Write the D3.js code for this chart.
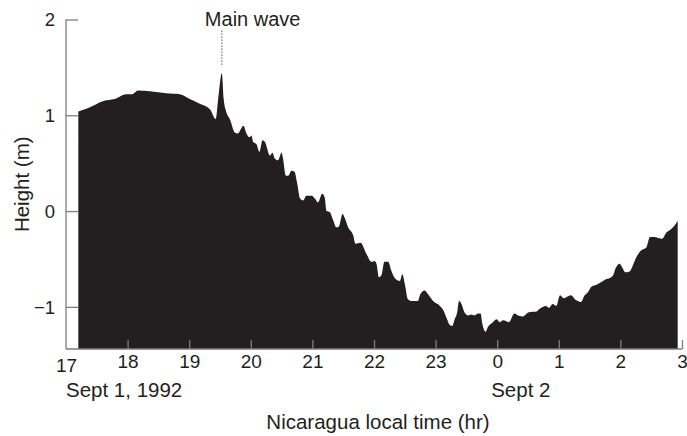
<!DOCTYPE html>
<html>
<head>
<meta charset="utf-8">
<script src="https://cdn.jsdelivr.net/npm/d3@7"></script>
<style>
  body { margin: 0; background: #fff; }
  svg { display: block; font-family: "Liberation Sans", Arial, sans-serif; }
</style>
</head>
<body>
<div id="chart"></div>
<script>
// tide gauge record, hours after midnight Sept 1 (24 = 0h Sept 2)
var hours = [17.20, 17.34, 17.61, 17.79, 17.98, 18.07, 18.17, 18.36, 18.63, 18.85,
  19.01, 19.17, 19.34, 19.43, 19.47, 19.53, 19.56, 19.60, 19.66, 19.74,
  19.79, 19.88, 19.93, 19.98, 20.01, 20.04, 20.09, 20.14, 20.19, 20.23,
  20.31, 20.35, 20.39, 20.44, 20.50, 20.52, 20.57, 20.61, 20.66, 20.71,
  20.75, 20.80, 20.85, 20.90, 20.99, 21.04, 21.09, 21.16, 21.20, 21.23,
  21.28, 21.34, 21.39, 21.43, 21.49, 21.53, 21.58, 21.66, 21.70, 21.78,
  21.88, 21.96, 22.01, 22.04, 22.08, 22.12, 22.17, 22.23, 22.28, 22.35,
  22.42, 22.46, 22.50, 22.55, 22.62, 22.71, 22.75, 22.82, 22.89, 22.96,
  23.07, 23.13, 23.18, 23.23, 23.27, 23.31, 23.35, 23.38, 23.42, 23.47,
  23.53, 23.58, 23.63, 23.69, 23.73, 23.76, 23.81, 23.85, 23.93, 23.99,
  24.04, 24.10, 24.19, 24.28, 24.34, 24.42, 24.50, 24.57, 24.63, 24.69,
  24.79, 24.84, 24.90, 24.96, 25.02, 25.08, 25.15, 25.20, 25.26, 25.31,
  25.36, 25.42, 25.47, 25.53, 25.61, 25.69, 25.77, 25.85, 25.89, 25.92,
  25.99, 26.03, 26.08, 26.15, 26.20, 26.26, 26.34, 26.42, 26.48, 26.55,
  26.61, 26.68, 26.74, 26.82, 26.88, 26.93];
var heights = [1.04, 1.07, 1.15, 1.17, 1.22, 1.22, 1.26, 1.25, 1.23, 1.22,
  1.17, 1.12, 1.06, 0.96, 1.17, 1.44, 1.17, 1.04, 0.96, 0.82,
  0.81, 0.89, 0.81, 0.77, 0.79, 0.72, 0.70, 0.62, 0.74, 0.72,
  0.58, 0.61, 0.55, 0.53, 0.61, 0.56, 0.37, 0.37, 0.42, 0.41,
  0.30, 0.13, 0.11, 0.16, 0.16, 0.13, 0.09, 0.18, 0.14, 0.00,
  -0.01, -0.10, -0.17, -0.16, -0.03, -0.08, -0.17, -0.25, -0.34, -0.33,
  -0.45, -0.53, -0.52, -0.55, -0.69, -0.67, -0.53, -0.53, -0.62, -0.71,
  -0.73, -0.66, -0.76, -0.92, -0.94, -0.94, -0.87, -0.83, -0.88, -0.94,
  -0.99, -1.04, -1.12, -1.19, -1.20, -1.13, -1.06, -0.94, -0.97, -1.06,
  -1.09, -1.08, -1.09, -1.07, -1.07, -1.18, -1.26, -1.21, -1.16, -1.13,
  -1.16, -1.14, -1.16, -1.07, -1.09, -1.10, -1.06, -1.05, -1.05, -1.02,
  -0.99, -1.01, -0.97, -0.99, -0.88, -0.91, -0.89, -0.88, -0.92, -0.94,
  -0.95, -0.88, -0.85, -0.79, -0.77, -0.74, -0.71, -0.69, -0.66, -0.60,
  -0.55, -0.59, -0.64, -0.63, -0.57, -0.48, -0.41, -0.38, -0.27, -0.27,
  -0.28, -0.29, -0.23, -0.19, -0.15, -0.10];

var xTicks = [17, 18, 19, 20, 21, 22, 23, 24, 25, 26, 27];
var xTickLabels = ["17", "18", "19", "20", "21", "22", "23", "0", "1", "2", "3"];
var yTicks = [2, 1, 0, -1];
var yTickLabels = ["2", "1", "0", "\u22121"];
var mainWaveHour = 19.53;

var fullWidth = 687, fullHeight = 436;
var margin = { top: 19.5, right: 5, bottom: 87, left: 66 };
var width = fullWidth - margin.left - margin.right;
var height = fullHeight - margin.top - margin.bottom;
var ink = "#231f20";
var axisGrey = "#7d7d7f";

var svg = d3.select("#chart").append("svg")
  .attr("width", fullWidth)
  .attr("height", fullHeight);

var g = svg.append("g")
  .attr("transform", "translate(" + margin.left + "," + margin.top + ")");

var x = d3.scaleLinear().domain([17, 27]).range([0, width]);
var y = d3.scaleLinear().domain([-1.44, 2]).range([height, 0]);

var data = hours.map(function(h, i) { return { h: h, v: heights[i] }; });

// filled record
var area = d3.area()
  .x(function(d) { return x(d.h); })
  .y0(y(-1.44))
  .y1(function(d) { return y(d.v); })
  .curve(d3.curveMonotoneX);

g.append("path")
  .datum(data)
  .attr("d", area)
  .attr("fill", ink);

// y axis, ticks pointing inward
var yAxis = d3.axisRight(y)
  .tickValues(yTicks)
  .tickSize(12)
  .tickFormat(function(d, i) { return yTickLabels[i]; });

var yg = g.append("g").call(yAxis);
yg.select(".domain").remove();
yg.selectAll(".tick line").attr("stroke", axisGrey).attr("stroke-width", 1.3);
yg.selectAll(".tick text")
  .attr("x", -11)
  .attr("dy", "0.34em")
  .attr("text-anchor", "end")
  .attr("fill", ink)
  .attr("font-size", "18.5px");

g.append("line")
  .attr("x1", 0).attr("x2", 0)
  .attr("y1", y(2)).attr("y2", height)
  .attr("stroke", axisGrey).attr("stroke-width", 1.3);

// x axis, ticks pointing up into the plot
var xAxis = d3.axisBottom(x)
  .tickValues(xTicks)
  .tickSize(0)
  .tickFormat(function(d, i) { return xTickLabels[i]; });

var xg = g.append("g")
  .attr("transform", "translate(0," + height + ")")
  .call(xAxis);
xg.select(".domain").remove();
xg.selectAll(".tick text")
  .attr("y", 19)
  .attr("dy", 0)
  .attr("fill", ink)
  .attr("font-size", "19px")
  .attr("transform", function(d) { return d === 17 ? "translate(0,3.5)" : null; });
xg.selectAll(".tick")
  .filter(function(d) { return d !== 17; })
  .append("line")
  .attr("y1", 0).attr("y2", -9)
  .attr("stroke", axisGrey).attr("stroke-width", 1.3);

g.append("line")
  .attr("x1", 0).attr("x2", width)
  .attr("y1", height).attr("y2", height)
  .attr("stroke", axisGrey).attr("stroke-width", 1.3);

// date labels
g.append("text")
  .attr("x", x(17)).attr("y", height + 48)
  .attr("fill", ink).attr("font-size", "20.5px")
  .text("Sept 1, 1992");
g.append("text")
  .attr("x", x(24) - 6).attr("y", height + 48)
  .attr("fill", ink).attr("font-size", "20.5px")
  .text("Sept 2");

// axis titles
g.append("text")
  .attr("x", width / 2 + 4).attr("y", height + 80)
  .attr("text-anchor", "middle")
  .attr("fill", ink).attr("font-size", "20.5px")
  .text("Nicaragua local time (hr)");

svg.append("text")
  .attr("transform", "translate(29," + (margin.top + height / 2) + ") rotate(-90)")
  .attr("text-anchor", "middle")
  .attr("fill", ink).attr("font-size", "20.5px")
  .text("Height (m)");

// main wave annotation
g.append("line")
  .attr("x1", x(mainWaveHour)).attr("x2", x(mainWaveHour))
  .attr("y1", 11).attr("y2", 47)
  .attr("stroke", "#555").attr("stroke-width", 1.2)
  .attr("stroke-dasharray", "1.2,1.8");
g.append("text")
  .attr("x", x(mainWaveHour) - 17).attr("y", 6)
  .attr("fill", ink).attr("font-size", "20px")
  .text("Main wave");
</script>
</body>
</html>
